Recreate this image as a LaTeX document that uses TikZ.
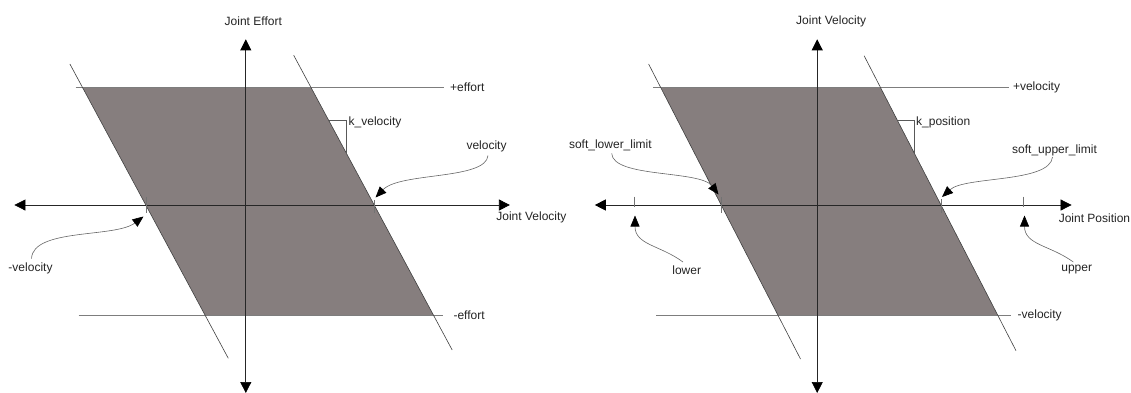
\documentclass[tikz,border=0pt]{standalone}
\usepackage{fontspec}
\setmainfont{Liberation Sans}
\usetikzlibrary{arrows.meta}
\definecolor{regfill}{RGB}{134,126,126}
\definecolor{limline}{RGB}{125,125,125}
\definecolor{txt}{RGB}{35,35,35}
\begin{document}
\begin{tikzpicture}[x=1pt,y=-1pt,
  axisline/.style={line width=0.7pt, black!85, {Triangle[length=11pt,width=11pt,color=black]}-{Triangle[length=11pt,width=11pt,color=black]}},
  limitline/.style={line width=0.6pt, limline},
  slantline/.style={line width=0.6pt, black!75},
  tickmark/.style={line width=0.6pt, black!55},
  bracketline/.style={line width=0.6pt, black!65},
  callout/.style={line width=0.6pt, black!60, -{Triangle[length=11pt,width=9pt,color=black]}},
  lbl/.style={font=\fontsize{12}{14}\selectfont, text=txt, inner sep=0pt}
]
\useasboundingbox (0,0) rectangle (1131,392);

% ================= LEFT DIAGRAM =================
\fill[regfill] (82.7,87.7) -- (311.1,87.7) -- (433.8,315.7) -- (205.4,315.7) -- cycle;
% limit lines
\draw[limitline] (75.7,87.7) -- (443.5,87.7);
\draw[limitline] (78.6,315.7) -- (443.2,315.7);
% slanted lines
\draw[slantline] (69.9,64) -- (228.3,358.3);
\draw[slantline] (293.7,55.3) -- (452.2,350);
% axes
\coordinate (LvTop) at (245.8,39.3);
\coordinate (LvBot) at (245.8,393);
\coordinate (LhL) at (14.4,205);
\coordinate (LhR) at (509.9,205);
\draw[axisline] (LvBot) -- (LvTop);
\draw[axisline] (LhL) -- (LhR);
% ticks
\coordinate (LtA) at (145.8,196.7);
\coordinate (LtB) at (145.8,213.3);
\coordinate (LtC) at (374.2,200);
\coordinate (LtD) at (374.2,213.3);
\draw[tickmark] (LtA) -- (LtB);
\draw[tickmark] (LtC) -- (LtD);
% bracket
\coordinate (LkA) at (328.5,120);
\coordinate (LkB) at (346.5,120);
\coordinate (LkC) at (346.5,153.5);
\draw[bracketline] (LkA) -- (LkB) -- (LkC);
% labels
\node[lbl] (jeff) at (253.3,21.7) {Joint Effort};
\node[lbl, anchor=west] (jvelx) at (496.2,217.7) {Joint Velocity};
\node[lbl, anchor=west] (peff) at (450,87.7) {+effort};
\node[lbl, anchor=west] (meff) at (453.3,315) {-effort};
\node[lbl, anchor=west] (kvel) at (348.5,122) {k\_velocity};
\node[lbl] (velL) at (486.5,146.7) {velocity};
\node[lbl, anchor=west] (mvelL) at (8.3,268) {-velocity};
% callouts
\coordinate (velTip) at (375.5,197.5);
\coordinate (mvelTip) at (143.5,216.5);
\draw[callout] (488,155.5) .. controls (486,180) and (400,172) .. (velTip);
\draw[callout] (31.5,258.5) .. controls (33,228) and (115,238) .. (mvelTip);

% ================= RIGHT DIAGRAM =================
\fill[regfill] (660.8,87.7) -- (880.6,87.7) -- (998,315.7) -- (778.2,315.7) -- cycle;
\draw[limitline] (653.2,87.7) -- (1008.5,87.7);
\draw[limitline] (656.1,315.7) -- (1011,315.7);
\draw[slantline] (648.6,64) -- (800.5,359);
\draw[slantline] (864.1,55.7) -- (1016,350.7);
\coordinate (RvTop) at (817.2,39.3);
\coordinate (RvBot) at (817.2,393);
\coordinate (RhL) at (594.8,205);
\coordinate (RhR) at (1071.6,205);
\draw[axisline] (RvBot) -- (RvTop);
\draw[axisline] (RhL) -- (RhR);
% ticks
\coordinate (RtA) at (721.2,197);
\coordinate (RtB) at (721.2,213.3);
\coordinate (RtC) at (941,199);
\coordinate (RtD) at (941,213.3);
\coordinate (RtE) at (634,196.7);
\coordinate (RtF) at (634,206.5);
\coordinate (RtG) at (1023.5,196.7);
\coordinate (RtH) at (1023.5,206.5);
\draw[tickmark] (RtA) -- (RtB);
\draw[tickmark] (RtC) -- (RtD);
\draw[tickmark] (RtE) -- (RtF);
\draw[tickmark] (RtG) -- (RtH);
% bracket
\coordinate (RkA) at (897.6,120.7);
\coordinate (RkB) at (914,120.7);
\coordinate (RkC) at (914,152.6);
\draw[bracketline] (RkA) -- (RkB) -- (RkC);
% labels
\node[lbl] (jvel) at (831.2,21.7) {Joint Velocity};
\node[lbl, anchor=west] (jpos) at (1058.6,218) {Joint Position};
\node[lbl, anchor=west] (pvel) at (1012.8,87.7) {+velocity};
\node[lbl, anchor=west] (mvelR) at (1017.5,315) {-velocity};
\node[lbl, anchor=west] (kpos) at (916,122.5) {k\_position};
\node[lbl] (sll) at (610.4,145.3) {soft\_lower\_limit};
\node[lbl] (sul) at (1054.5,150) {soft\_upper\_limit};
\node[lbl] (low) at (686.7,270) {lower};
\node[lbl] (upp) at (1076.7,270) {upper};
% callouts
\coordinate (sllTip) at (718.5,194.5);
\coordinate (sulTip) at (942,197);
\coordinate (lowTip) at (635,215.5);
\coordinate (uppTip) at (1024.5,215.5);
\draw[callout] (611.7,153.5) .. controls (613,178) and (700,170) .. (sllTip);
\draw[callout] (1052.5,157) .. controls (1050,183) and (965,176) .. (sulTip);
\draw[callout] (683,262) .. controls (660,245) and (635,245) .. (lowTip);
\draw[callout] (1073.3,262) .. controls (1050,245) and (1024.5,245) .. (uppTip);
\end{tikzpicture}
\end{document}
